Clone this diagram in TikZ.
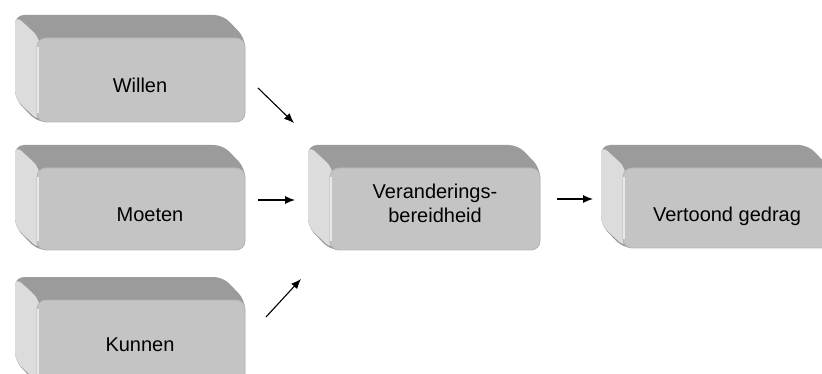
\documentclass[tikz,border=0pt]{standalone}
\usepackage{fontspec}
\setmainfont{Liberation Sans}
\usetikzlibrary{arrows.meta}
\definecolor{blokvoor}{HTML}{C4C4C4}
\definecolor{bloktop}{HTML}{9B9B9B}
\definecolor{blokzij}{HTML}{DCDCDC}
\definecolor{bloklicht}{HTML}{E8E8E8}
\definecolor{blokrand}{HTML}{B4B4B4}
\tikzset{
  voorvlak/.style={fill=blokvoor,draw=blokrand,line width=0.8pt,rounded corners=9pt,inner sep=0pt},
  tekst/.style={font=\fontsize{20}{24}\selectfont,align=center,inner sep=0pt},
  pijl/.style={-{Latex[length=10pt,width=8pt]},line width=1.1pt}
}
% #1 name, #2 x0, #3 y0, #4 x1, #5 y1 of the front face
\newcommand{\blok}[5]{%
  \fill[bloktop,rounded corners=9pt] (#2-22,#5-23) -- (#2-22,#3-23) -- (#4-22,#3-23) -- (#4,#3) -- (#4,#5) -- (#2,#5) -- cycle;
  \fill[blokzij,rounded corners=9pt] (#2-22,#5-23) -- (#2-22,#3-23) -- (#2+3,#3) -- (#2+3,#5) -- cycle;
  \node[voorvlak,minimum width=#4-#2,minimum height=#5-#3] (#1) at ({(#2+#4)/2},{(#3+#5)/2}) {};
  \draw[bloklicht,line width=1.2pt] (#2+1,#3+9) -- (#2+1,#5-9);
}

\begin{document}
\begin{tikzpicture}[x=1pt,y=-1pt]
 \useasboundingbox (0,0) rectangle (822,374);
 \clip (0,0) rectangle (822,374);
 \blok{willen}{37}{38}{245}{122}
 \blok{moeten}{37}{168}{245}{250}
 \blok{kunnen}{37}{300}{245}{384}
 \blok{bereid}{330}{168}{540}{250}
 \blok{gedrag}{623}{168}{830}{248}
 \node[tekst] (tWillen) at (140,85) {Willen};
 \node[tekst] (tMoeten) at (150,215) {Moeten};
 \node[tekst] (tKunnen) at (140,345) {Kunnen};
 \node[tekst] (tBereid) at (435,203) {Veranderings-\\bereidheid};
 \node[tekst] (tGedrag) at (727,216) {Vertoond gedrag};
 \coordinate (wUit) at (258,88);
 \coordinate (wIn) at (294,123);
 \coordinate (mUit) at (258,200);
 \coordinate (mIn) at (295,200);
 \coordinate (kUit) at (266,317);
 \coordinate (kIn) at (301,279);
 \coordinate (bUit) at (557,199);
 \coordinate (bIn) at (593,199);
 \draw[pijl] (wUit) -- (wIn);
 \draw[pijl] (mUit) -- (mIn);
 \draw[pijl] (kUit) -- (kIn);
 \draw[pijl] (bUit) -- (bIn);
\end{tikzpicture}
\end{document}
